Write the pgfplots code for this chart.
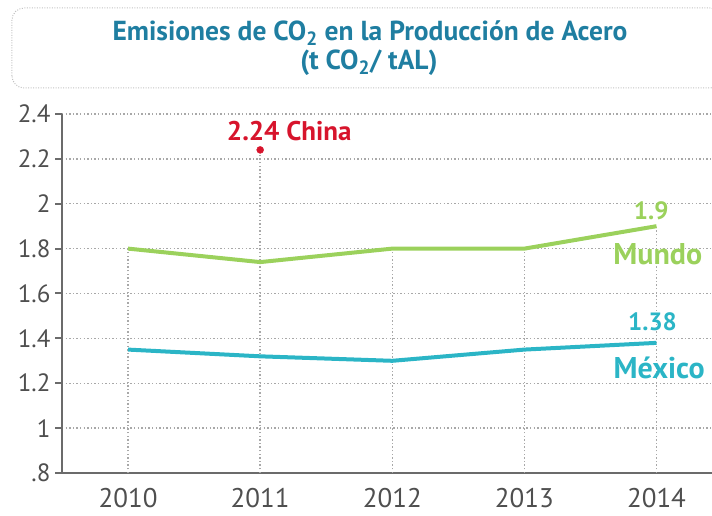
\documentclass[border=0pt]{standalone}
\usepackage{pgfplots}
\pgfplotsset{compat=1.18}
\usepackage{fontspec}
\setmainfont{PT Sans}
\definecolor{titleblue}{HTML}{1F7EA1}
\definecolor{mundo}{HTML}{9BD15C}
\definecolor{mexico}{HTML}{2BB5C6}
\definecolor{china}{HTML}{D7142C}
\definecolor{axgray}{HTML}{6B6B6B}
\definecolor{gridgray}{HTML}{A8A8A8}
\definecolor{lblgray}{HTML}{4F4F4F}
\begin{document}
\begin{tikzpicture}[x=1pt,y=1pt]
\begin{axis}[
  at={(0,0)}, anchor=south west,
  scale only axis, width=650pt, height=359pt,
  xmin=2009.5, xmax=2014.42, ymin=0.8, ymax=2.4,
  axis x line=bottom, axis y line=left,
  axis line style={-, axgray, line width=2.5pt},
  xtick={2010,2011,2012,2013,2014},
  xticklabels={2010,2011,2012,2013,2014},
  xtick style={draw=none},
  ytick={0.8,1,1.2,1.4,1.6,1.8,2,2.2,2.4},
  yticklabels={.8,1,1.2,1.4,1.6,1.8,2,2.2,2.4},
  ytick style={axgray, line width=2pt},
  tick align=outside, major tick length=7pt,
  ymajorgrids,
  grid style={gridgray, line width=1.4pt, dash pattern=on 1.4pt off 2.2pt},
  /pgf/number format/assume math mode=true,
  yticklabel style={font=\fontsize{25}{25}\selectfont, text=lblgray, xshift=-1pt},
  xticklabel style={font=\fontsize{27}{27}\selectfont, text=lblgray, yshift=-5pt},
  clip=false,
]
\addplot[ycomb, gridgray, line width=1.4pt, dash pattern=on 1.4pt off 2.2pt, mark=none]
  coordinates {(2010,1.8)(2011,2.24)(2012,1.8)(2013,1.8)(2014,1.9)};
\addplot[mundo, line width=4pt, mark=none]
  coordinates {(2010,1.80)(2011,1.74)(2012,1.80)(2013,1.80)(2014,1.90)};
\addplot[mexico, line width=4pt, mark=none]
  coordinates {(2010,1.35)(2011,1.32)(2012,1.30)(2013,1.35)(2014,1.38)};
\addplot[china, only marks, mark=*, mark size=3.5pt]
  coordinates {(2011,2.24)};
\node[china, font=\fontsize{27}{27}\selectfont\bfseries] at (axis cs:2011.22,2.324) {2.24 China};
\node[mundo, font=\fontsize{25}{25}\selectfont\bfseries] at (axis cs:2013.96,1.97) {1.9};
\node[mundo, font=\fontsize{30}{30}\selectfont\bfseries] at (axis cs:2014.01,1.776) {Mundo};
\node[mexico, font=\fontsize{25}{25}\selectfont\bfseries] at (axis cs:2013.97,1.473) {1.38};
\node[mexico, font=\fontsize{30}{30}\selectfont\bfseries] at (axis cs:2014.02,1.268) {México};
\end{axis}
\draw[gridgray!70, line width=1pt, dash pattern=on 1pt off 1.5pt, rounded corners=12pt]
  (-50,385) rectangle (660,465);
\node[titleblue, font=\fontsize{27.5}{27.5}\selectfont\bfseries] at (308,440) {Emisiones de CO\textsubscript{2} en la Producción de Acero};
\node[titleblue, font=\fontsize{27.5}{27.5}\selectfont\bfseries] at (307,410) {(t CO\textsubscript{2}/ tAL)};
\pgfresetboundingbox
\path (-62,-43) rectangle (650,473);
\end{tikzpicture}
\end{document}
